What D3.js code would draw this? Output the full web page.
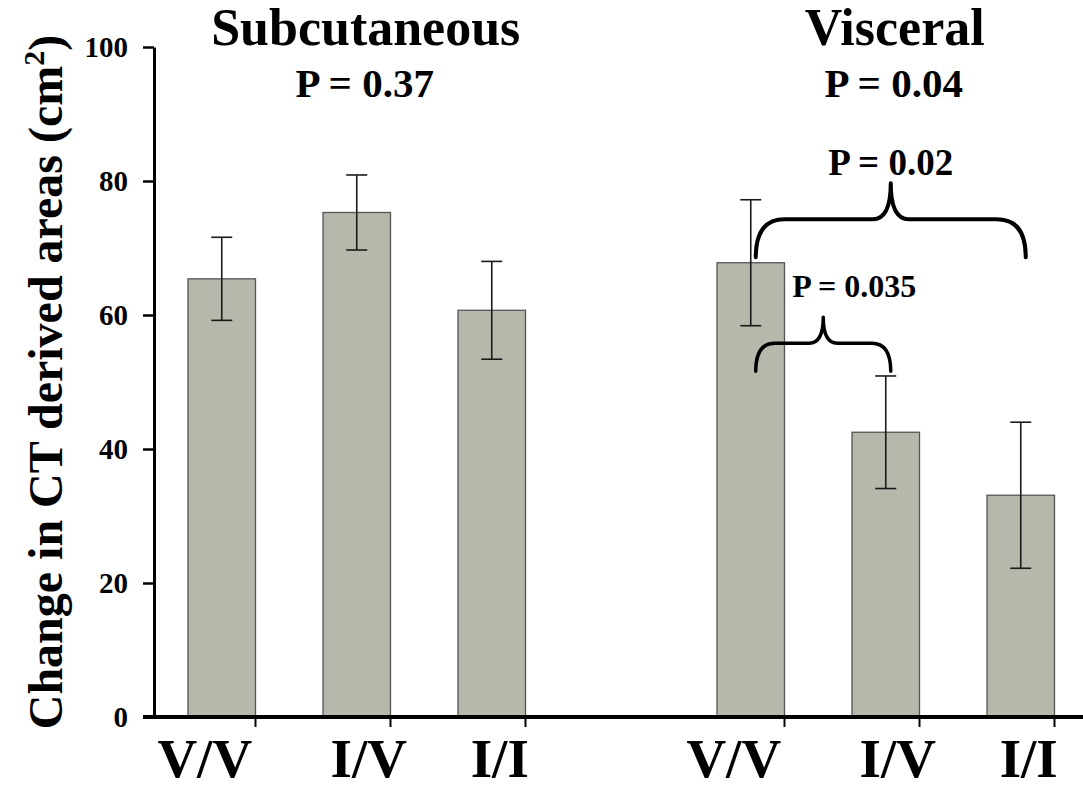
<!DOCTYPE html>
<html>
<head>
<meta charset="utf-8">
<script src="https://cdn.jsdelivr.net/npm/d3@7"></script>
<style>
  html, body { margin: 0; padding: 0; background: #fff; }
  svg { display: block; }
  text { font-family: "Liberation Serif", "Times New Roman", serif; font-weight: bold; fill: #000; }
</style>
</head>
<body>
<svg id="chart" width="1083" height="789"></svg>
<script>
// ---------------- data ----------------
const groups = ["Subcutaneous", "Visceral"];
const groupPValues = ["P = 0.37", "P = 0.04"];
const categories = ["V/V", "I/V", "I/I"];
const subcutaneousMeans = [65.4, 75.3, 60.7];
const subcutaneousErrors = [6.2, 5.6, 7.3];
const visceralMeans = [67.8, 42.5, 33.1];
const visceralErrors = [9.4, 8.4, 10.9];
const yTickValues = [0, 20, 40, 60, 80, 100];
const yTitle = "Change in CT derived areas (cm";
// pairwise comparisons within Visceral
const compFrom = ["V/V", "V/V"];
const compTo = ["I/I", "I/V"];
const compLevel = [74.3, 55.8];
const compLabel = ["P = 0.02", "P = 0.035"];

// ---------------- layout ----------------
const svg = d3.select("#chart");
const y = d3.scaleLinear().domain([0, 100]).range([717, 47]);
const gx = d3.scaleBand().domain(groups).range([154.25, 1088.25]).paddingInner(0.2344).paddingOuter(0);
const cx = d3.scaleBand().domain(categories).range([0, gx.bandwidth()]).paddingInner(0.5).paddingOuter(0.25);

const rows = [];
groups.forEach((g, gi) => {
  const means = gi === 0 ? subcutaneousMeans : visceralMeans;
  const errs = gi === 0 ? subcutaneousErrors : visceralErrors;
  categories.forEach((c, ci) => rows.push({ group: g, cat: c, mean: means[ci], err: errs[ci] }));
});
const barX = d => gx(d.group) + cx(d.cat);
const barC = d => barX(d) + cx.bandwidth() / 2;

// bars
svg.append("g").selectAll("rect").data(rows).join("rect")
  .attr("x", barX)
  .attr("y", d => y(d.mean))
  .attr("width", cx.bandwidth())
  .attr("height", d => y(0) - y(d.mean))
  .attr("fill", "#b7b7ab")
  .attr("stroke", "#555")
  .attr("stroke-width", 1.3);

// error bars
const eb = svg.append("g").attr("stroke", "#1a1a1a").attr("stroke-width", 1.6).attr("fill", "none");
rows.forEach(d => {
  const xc = barC(d);
  eb.append("line").attr("x1", xc).attr("x2", xc).attr("y1", y(d.mean + d.err)).attr("y2", y(d.mean - d.err));
  [d.mean + d.err, d.mean - d.err].forEach(v => {
    eb.append("line").attr("x1", xc - 10.5).attr("x2", xc + 10.5).attr("y1", y(v)).attr("y2", y(v));
  });
});

// y axis
const yAxis = svg.append("g").attr("transform", "translate(154,0)")
  .attr("font-family", null).attr("font-size", null)
  .call(d3.axisLeft(y).tickValues(yTickValues).tickSize(11).tickPadding(15).tickSizeOuter(0));
yAxis.attr("font-family", "Liberation Serif").attr("font-size", 29);
yAxis.select(".domain").attr("stroke", "#000").attr("stroke-width", 3);
yAxis.selectAll(".tick line").attr("stroke", "#000").attr("stroke-width", 2.5);
yAxis.selectAll(".tick text").style("font-size", "29px").style("font-family", "'Liberation Serif', serif").style("font-weight", "bold").attr("fill", "#000");

// x axis line
svg.append("line").attr("x1", 143).attr("x2", 1083).attr("y1", y(0)).attr("y2", y(0))
  .attr("stroke", "#000").attr("stroke-width", 4);
// x ticks at right edge of each bar
svg.append("g").selectAll("line").data(rows).join("line")
  .attr("x1", d => barX(d) + cx.bandwidth()).attr("x2", d => barX(d) + cx.bandwidth())
  .attr("y1", y(0)).attr("y2", y(0) + 10)
  .attr("stroke", "#000").attr("stroke-width", 2);

// category labels
const labelShift = { "V/V": -17, "I/V": 12, "I/I": 8 };
svg.append("g").selectAll("text").data(rows).join("text")
  .attr("x", d => barC(d) + labelShift[d.cat])
  .attr("y", 777)
  .attr("text-anchor", "middle")
  .style("font-size", "55px")
  .text(d => d.cat);

// group titles and P values
groups.forEach((g, gi) => {
  const center = gx(g) + gx.bandwidth() / 2 + 9;
  svg.append("text").attr("x", center).attr("y", 45).attr("text-anchor", "middle")
    .style("font-size", "52px").text(g);
  svg.append("text").attr("x", center - 1).attr("y", 97).attr("text-anchor", "middle")
    .style("font-size", "41px").text(groupPValues[gi]);
});

// y title
const yt = svg.append("text")
  .attr("transform", `translate(62,${(y(0) + y(100)) / 2}) rotate(-90)`)
  .attr("text-anchor", "middle")
  .style("font-size", "48px");
yt.append("tspan").text(yTitle);
yt.append("tspan").attr("dy", -18).style("font-size", "30px").text("2");
yt.append("tspan").attr("dy", 18).text(")");

// braces
const braceStyle = [
  { drop: 38, rise: 36, cxr: 29, cm: 18, font: 37, gap: 8, dx: 0, sw: 4 },
  { drop: 28, rise: 26, cxr: 19, cm: 14, font: 32, gap: 20, dx: 31, sw: 3.5 }
];
const vis = groups[1];
compFrom.forEach((f, i) => {
  const s = braceStyle[i];
  const L = gx(vis) + cx(f) + cx.bandwidth() / 2 + 5;
  const R = gx(vis) + cx(compTo[i]) + cx.bandwidth() / 2 + 5;
  const M = (L + R) / 2;
  const yh = y(compLevel[i]);
  const yb = yh + s.drop, ytop = yh - s.rise;
  const p = d3.path();
  p.moveTo(L, yb);
  p.quadraticCurveTo(L, yh, L + s.cxr, yh);
  p.lineTo(M - s.cm, yh);
  p.quadraticCurveTo(M, yh, M, ytop);
  p.quadraticCurveTo(M, yh, M + s.cm, yh);
  p.lineTo(R - s.cxr, yh);
  p.quadraticCurveTo(R, yh, R, yb);
  svg.append("path").attr("d", p.toString()).attr("fill", "none")
    .attr("stroke", "#000").attr("stroke-width", s.sw).attr("stroke-linecap", "round").attr("stroke-linejoin", "round");
  svg.append("text").attr("x", M + s.dx).attr("y", ytop - s.gap).attr("text-anchor", "middle")
    .style("font-size", s.font + "px").text(compLabel[i]);
});
</script>
</body>
</html>
